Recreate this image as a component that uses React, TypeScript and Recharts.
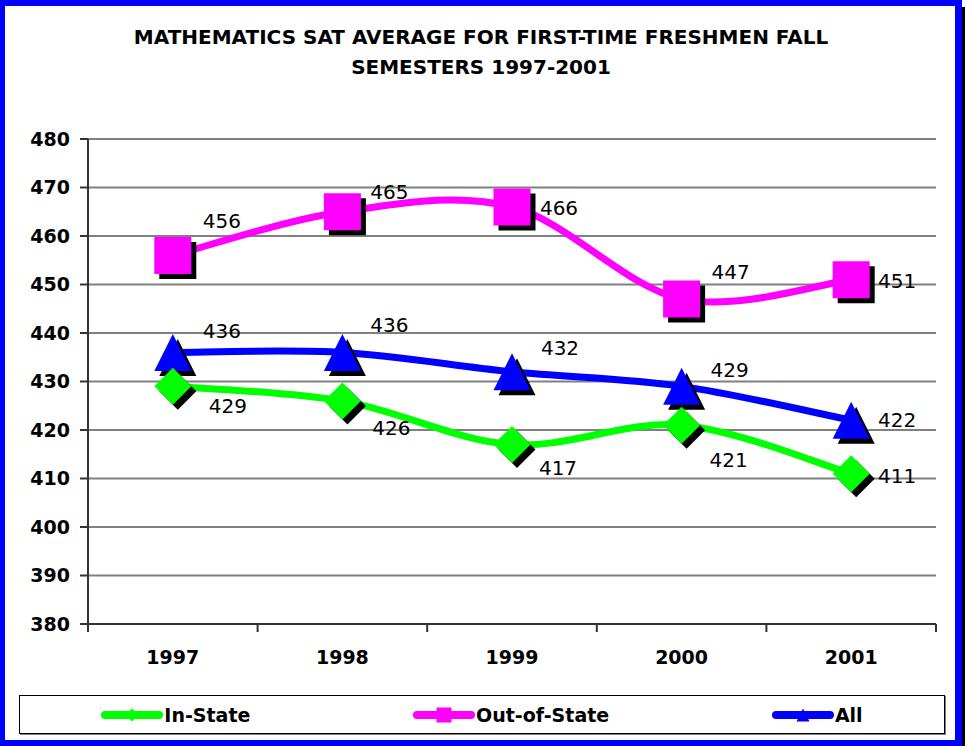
import React from 'react';
import { LineChart, Line, XAxis, YAxis, CartesianGrid, LabelList } from 'recharts';

// values
const years = ['1997', '1998', '1999', '2000', '2001'];
const inState = [429, 426, 417, 421, 411];
const outOfState = [456, 465, 466, 447, 451];
const allStudents = [436, 436, 432, 429, 422];
const yTicks = [380, 390, 400, 410, 420, 430, 440, 450, 460, 470, 480];

const FONT = '"DejaVu Sans", Verdana, sans-serif';
const W = 967;
const H = 746;
const PLOT_LEFT = 88;
const PLOT_RIGHT = 936;
const PLOT_TOP = 139;
const PLOT_BOTTOM = 624;
const BAND = (PLOT_RIGHT - PLOT_LEFT) / years.length;

const chartData = years.map((year, i) => ({
  year,
  inState: inState[i],
  outOfState: outOfState[i],
  all: allStudents[i],
}));

type Shape = 'diamond' | 'square' | 'triangle';

const series: { key: string; name: string; color: string; shape: Shape }[] = [
  { key: 'inState', name: 'In-State', color: '#00ff00', shape: 'diamond' },
  { key: 'outOfState', name: 'Out-of-State', color: '#ff00ff', shape: 'square' },
  { key: 'all', name: 'All', color: '#0000ff', shape: 'triangle' },
];

// hand placed data labels (dx, dy from the point), like the original
const labelOffsets: Record<string, number[][]> = {
  inState: [[55, 20], [49, 27], [46, 23], [47, 35], [46, 2]],
  outOfState: [[49, -34], [47, -20], [47, 1], [49, -27], [46, 1]],
  all: [[49, -21], [47, -27], [48, -24], [48, -16], [46, 0]],
};

// Excel-like smoothed line (Catmull-Rom as bezier)
const smoothCurve = (context: any) => {
  let pts: number[][] = [];
  return {
    areaStart() {},
    areaEnd() {},
    lineStart() {
      pts = [];
    },
    point(x: number, y: number) {
      pts.push([+x, +y]);
    },
    lineEnd() {
      const n = pts.length;
      if (!n) return;
      context.moveTo(pts[0][0], pts[0][1]);
      for (let i = 0; i < n - 1; i++) {
        const p0 = pts[Math.max(i - 1, 0)];
        const p1 = pts[i];
        const p2 = pts[i + 1];
        const p3 = pts[Math.min(i + 2, n - 1)];
        context.bezierCurveTo(
          p1[0] + (p2[0] - p0[0]) / 6,
          p1[1] + (p2[1] - p0[1]) / 6,
          p2[0] - (p3[0] - p1[0]) / 6,
          p2[1] - (p3[1] - p1[1]) / 6,
          p2[0],
          p2[1]
        );
      }
    },
  };
};

const shapePath = (shape: Shape, cx: number, cy: number, s: number) => {
  const h = s / 2;
  if (shape === 'square') return `M${cx - h},${cy - h}h${s}v${s}h${-s}Z`;
  if (shape === 'triangle') return `M${cx},${cy - h}L${cx + h},${cy + h}L${cx - h},${cy + h}Z`;
  return `M${cx},${cy - h}L${cx + h},${cy}L${cx},${cy + h}L${cx - h},${cy}Z`;
};

const makeDot = (shape: Shape, color: string) => (props: any) => {
  const { cx, cy, index } = props;
  if (cx == null || cy == null) return <g key={index} />;
  return (
    <g key={`dot-${shape}-${index}`}>
      <path d={shapePath(shape, cx + 5, cy + 5, 37)} fill="#000" />
      <path d={shapePath(shape, cx, cy, 37)} fill={color} />
    </g>
  );
};

const makeLabel = (key: string) => (props: any) => {
  const { x, y, value, index } = props;
  const [dx, dy] = labelOffsets[key][index];
  return (
    <text
      key={`lbl-${key}-${index}`}
      x={x + dx}
      y={y + dy}
      textAnchor="middle"
      dominantBaseline="central"
      fontFamily={FONT}
      fontSize={20}
      fill="#000"
    >
      {value}
    </text>
  );
};

const XTick = (props: any) => {
  const { x, payload, index } = props;
  const half = BAND / 2;
  return (
    <g>
      <line x1={x - half} x2={x - half} y1={PLOT_BOTTOM} y2={PLOT_BOTTOM + 8} stroke="#333" strokeWidth={2} />
      {index === years.length - 1 && (
        <line x1={x + half} x2={x + half} y1={PLOT_BOTTOM} y2={PLOT_BOTTOM + 8} stroke="#333" strokeWidth={2} />
      )}
      <text
        x={x}
        y={PLOT_BOTTOM + 40}
        textAnchor="middle"
        fontFamily={FONT}
        fontSize={19}
        fontWeight="bold"
        fill="#000"
      >
        {payload.value}
      </text>
    </g>
  );
};

const LegendIcon = ({ shape, color }: { shape: Shape; color: string }) => (
  <svg width={62} height={20} style={{ display: 'block' }}>
    <line x1={4} x2={58} y1={10} y2={10} stroke={color} strokeWidth={8} strokeLinecap="round" />
    <path d={shapePath(shape, 31, 10, shape === 'square' ? 15 : 13)} fill={color} />
  </svg>
);

const App: React.FC = () => {
  // draw order: pink, blue, then green on top
  const drawOrder = [series[1], series[2], series[0]];

  return (
    <div style={{ position: 'absolute', left: 0, top: 0, width: W, height: H, background: '#fff', fontFamily: FONT }}>
      <div
        style={{
          position: 'absolute',
          left: 0,
          top: 22,
          width: 962,
          textAlign: 'center',
          fontSize: 20,
          fontWeight: 'bold',
          lineHeight: '30px',
          color: '#000',
        }}
      >
        MATHEMATICS SAT AVERAGE FOR FIRST-TIME FRESHMEN FALL
        <br />
        SEMESTERS 1997-2001
      </div>

      <div style={{ position: 'absolute', left: 0, top: 0 }}>
        <LineChart
          width={W}
          height={H}
          data={chartData}
          margin={{ top: PLOT_TOP, right: W - PLOT_RIGHT, left: PLOT_LEFT - 60, bottom: H - PLOT_BOTTOM - 30 }}
        >
          <CartesianGrid horizontal vertical={false} stroke="#808080" strokeWidth={2} />
          <XAxis
            dataKey="year"
            height={30}
            padding={{ left: BAND / 2, right: BAND / 2 }}
            axisLine={{ stroke: '#333', strokeWidth: 2 }}
            tickLine={false}
            tick={<XTick />}
            interval={0}
          />
          <YAxis
            width={60}
            domain={[380, 480]}
            ticks={yTicks}
            interval={0}
            tickSize={8}
            tickMargin={10}
            axisLine={{ stroke: '#333', strokeWidth: 2 }}
            tickLine={{ stroke: '#333', strokeWidth: 2 }}
            tick={{ fill: '#000', fontSize: 19, fontWeight: 'bold', fontFamily: FONT }}
          />
          <YAxis
            yAxisId="frame"
            orientation="right"
            width={0}
            domain={[380, 480]}
            tick={false}
            tickLine={false}
            axisLine={{ stroke: '#808080', strokeWidth: 2 }}
          />
          {drawOrder.map((s) => (
            <Line
              key={s.key}
              dataKey={s.key}
              name={s.name}
              type={smoothCurve as any}
              stroke={s.color}
              strokeWidth={7}
              dot={makeDot(s.shape, s.color)}
              activeDot={false}
              isAnimationActive={false}
            >
              <LabelList dataKey={s.key} content={makeLabel(s.key)} />
            </Line>
          ))}
        </LineChart>
      </div>

      {/* legend box */}
      <div
        style={{
          position: 'absolute',
          left: 19,
          top: 695,
          width: 924,
          height: 37,
          border: '1px solid #000',
          boxShadow: '1px 1px 0 #808080',
          display: 'flex',
          alignItems: 'center',
          justifyContent: 'space-around',
          boxSizing: 'content-box',
        }}
      >
        {series.map((s) => (
          <div key={s.key} style={{ display: 'flex', alignItems: 'center' }}>
            <LegendIcon shape={s.shape} color={s.color} />
            <span style={{ fontSize: 19, fontWeight: 'bold', color: '#000', marginLeft: 1 }}>{s.name}</span>
          </div>
        ))}
      </div>

      {/* outer blue frame with dark shadow on the right */}
      <div
        style={{
          position: 'absolute',
          left: 0,
          top: 0,
          width: 962,
          height: H,
          boxSizing: 'border-box',
          borderTop: '6px solid #0000ff',
          borderLeft: '5px solid #0000ff',
          borderRight: '7px solid #0000ff',
          borderBottom: '6px solid #0000ff',
          pointerEvents: 'none',
        }}
      />
      <div style={{ position: 'absolute', left: 962, top: 7, width: 3, height: H - 7, background: '#000' }} />
    </div>
  );
};

export default App;
